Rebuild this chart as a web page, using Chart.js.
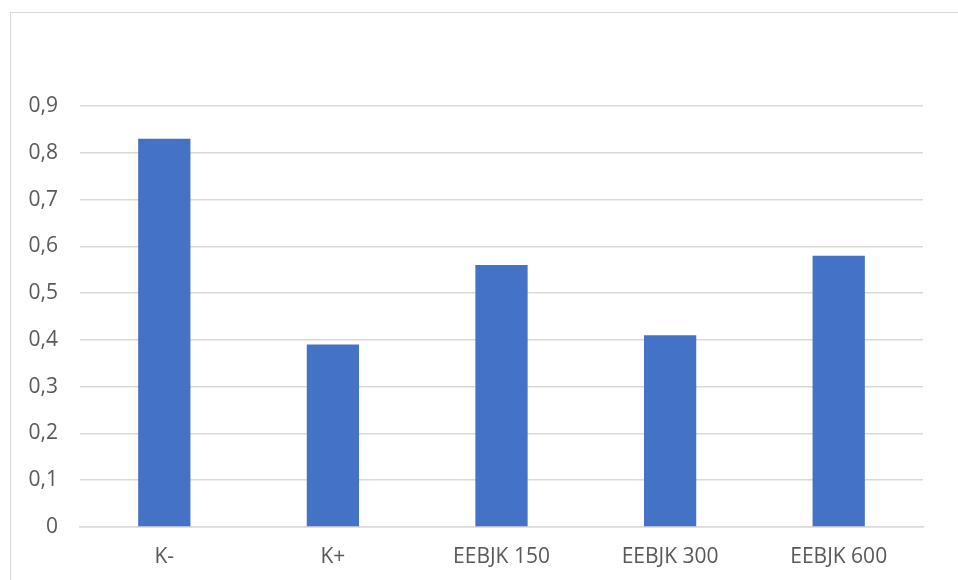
<!DOCTYPE html>
<html>
<head>
<meta charset="utf-8">
<script src="https://cdn.jsdelivr.net/npm/chart.js@4/dist/chart.umd.min.js"></script>
<style>
  html, body { margin: 0; padding: 0; background: #fff; }
  .wrap { position: relative; width: 958px; height: 580px; overflow: hidden; }
  .frame { position: absolute; left: 10px; top: 12px; width: 1000px; height: 600px; border: 1.5px solid #d9d9d9; box-sizing: border-box; }
  canvas { position: absolute; left: 0; top: 0; }
</style>
</head>
<body>
<div class="wrap">
  <div class="frame"></div>
  <canvas id="bars" width="958" height="580"></canvas>
</div>
<script>
const categories = ['K-', 'K+', 'EEBJK 150', 'EEBJK 300', 'EEBJK 600'];
const values = [0.83, 0.39, 0.56, 0.41, 0.58];

const ctx = document.getElementById('bars').getContext('2d');
new Chart(ctx, {
  type: 'bar',
  data: {
    labels: categories,
    datasets: [{
      data: values,
      backgroundColor: '#4472C4',
      categoryPercentage: 1,
      barPercentage: 0.31
    }]
  },
  options: {
    responsive: false,
    animation: false,
    layout: { padding: { top: 106, right: 35, left: 0, bottom: 0 } },
    plugins: { legend: { display: false }, tooltip: { enabled: false } },
    scales: {
      x: {
        grid: { display: false },
        border: { color: '#d9d9d9', width: 1.5 },
        ticks: { color: '#595959', font: { family: 'Open Sans', size: 21 }, padding: 9, maxRotation: 0 },
        afterFit: scale => { scale.height = 53; }
      },
      y: {
        min: 0,
        max: 0.9,
        ticks: {
          stepSize: 0.1,
          color: '#595959',
          padding: 22,
          font: { family: 'Open Sans', size: 21 },
          callback: v => Number(v.toFixed(1)).toString().replace('.', ',')
        },
        grid: { color: '#d9d9d9', lineWidth: 1.5, drawTicks: false },
        border: { display: false },
        afterFit: scale => { scale.width = 80; }
      }
    }
  }
});
</script>
</body>
</html>
